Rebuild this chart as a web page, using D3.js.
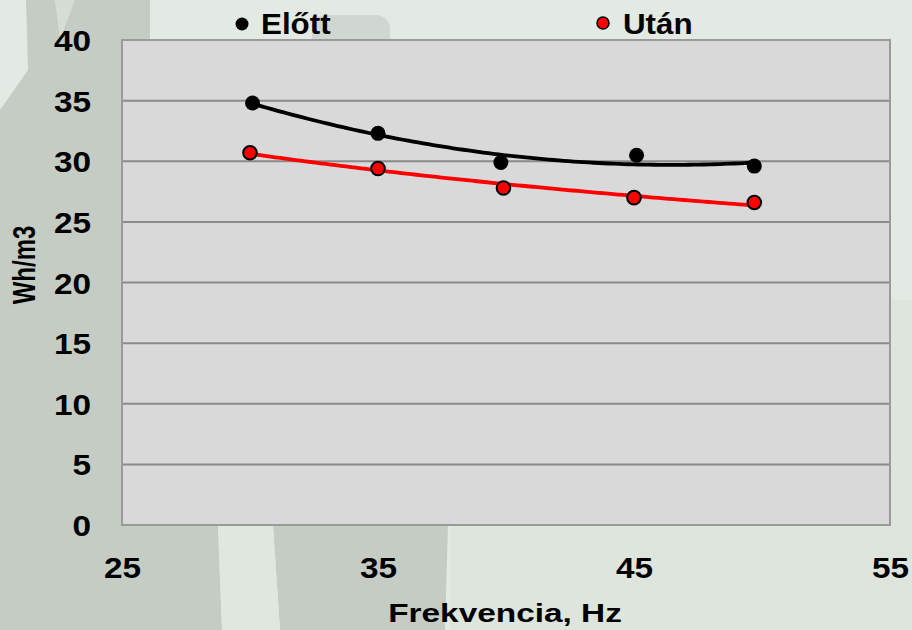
<!DOCTYPE html>
<html>
<head>
<meta charset="utf-8">
<script src="https://cdn.jsdelivr.net/npm/d3@7/dist/d3.min.js"></script>
<style>
  html, body { margin: 0; padding: 0; background: #e2e8e2; }
  svg { display: block; }
  text { font-family: "Liberation Sans", Arial, sans-serif; font-weight: bold; fill: #000; }
</style>
</head>
<body>
<svg id="chart" width="912" height="630"></svg>
<script>
// ---- data ----
const seriesNames = ["Előtt", "Után"];
const seriesColors = ["#000000", "#ff0000"];
const xBefore = [30.1, 35.0, 39.8, 45.1, 49.7];
const yBefore = [34.8, 32.3, 29.9, 30.5, 29.6];
const xAfter = [30.0, 35.0, 39.9, 45.0, 49.7];
const yAfter = [30.7, 29.4, 27.8, 27.0, 26.6];
const xTicks = [25, 35, 45, 55];
const yTicks = [0, 5, 10, 15, 20, 25, 30, 35, 40];
const xTitle = "Frekvencia, Hz";
const yTitle = "Wh/m3";

// ---- layout ----
const W = 912, H = 630;
const L = 122, R = 890, T = 40, B = 525;

const svg = d3.select("#chart");

// background (photo-like backdrop)
const bg = svg.append("g");
bg.append("rect").attr("width", W).attr("height", H).attr("fill", "#e3e9e3");
bg.append("rect").attr("x", 450).attr("y", 300).attr("width", 462).attr("height", 330).attr("fill", "#dde5dd");
bg.append("path").attr("fill", "#c4ccc4")
  .attr("d", "M0,110 L28,70 L26,0 L150,0 L150,40 L122,40 L122,525 L218,525 L222,630 L0,630 Z");
bg.append("path").attr("fill", "#d5ddd5")
  .attr("d", "M55,0 L75,0 L60,40 Z");
bg.append("path").attr("fill", "#c4ccc4")
  .attr("d", "M273,525 L448,525 L445,630 L280,630 Z");
bg.append("path").attr("fill", "#dfe7df")
  .attr("d", "M218,525 L273,525 L280,630 L222,630 Z");
bg.append("path").attr("fill", "#d0d7d0")
  .attr("d", "M312,40 L312,20 Q316,15 330,15 L378,15 Q390,18 390,30 L390,40 Z");

// scales
const x = d3.scaleLinear().domain([25, 55]).range([L, R]);
const y = d3.scaleLinear().domain([0, 40]).range([B, T]);

// plot area
svg.append("rect").attr("x", L).attr("y", T).attr("width", R - L).attr("height", B - T)
  .attr("fill", "#d9d9d9");

// gridlines
svg.append("g").selectAll("line").data(yTicks.filter(v => v > 0 && v < 40)).join("line")
  .attr("x1", L).attr("x2", R).attr("y1", d => y(d)).attr("y2", d => y(d))
  .attr("stroke", "#8a8a8a").attr("stroke-width", 2);

// border
svg.append("rect").attr("x", L).attr("y", T).attr("width", R - L).attr("height", B - T)
  .attr("fill", "none").attr("stroke", "#9a9a9a").attr("stroke-width", 2);

// axes (labels only, via d3 axes)
const yAxis = svg.append("g").attr("transform", `translate(${L},0)`)
  .call(d3.axisLeft(y).tickValues(yTicks).tickSize(0).tickPadding(0));
yAxis.select(".domain").remove();
yAxis.selectAll("text")
  .attr("x", null).attr("dy", null)
  .style("font-size", "29px").style("font-family", "Liberation Sans, Arial, sans-serif").style("font-weight", "bold")
  .attr("text-anchor", "end")
  .attr("transform", "translate(-31,10.5) scale(1.15,1)");

const xAxis = svg.append("g").attr("transform", `translate(0,${B})`)
  .call(d3.axisBottom(x).tickValues(xTicks).tickSize(0).tickPadding(0));
xAxis.select(".domain").remove();
xAxis.selectAll("text")
  .attr("y", null).attr("dy", null)
  .style("font-size", "29px").style("font-family", "Liberation Sans, Arial, sans-serif").style("font-weight", "bold")
  .attr("text-anchor", "middle")
  .attr("transform", "translate(0,52.5) scale(1.15,1)");

// axis titles
svg.append("text").text(xTitle)
  .attr("text-anchor", "middle").style("font-size", "26.5px")
  .attr("transform", `translate(505,622) scale(1.26,1)`);
svg.append("text").text(yTitle)
  .attr("text-anchor", "middle").style("font-size", "24px")
  .attr("transform", `translate(35,265) scale(1.3,1) rotate(-90)`);

// ---- trendlines computed from the data ----
function solve3(A, b) {
  const M = A.map((r, i) => r.concat([b[i]]));
  for (let i = 0; i < 3; i++) {
    let p = i;
    for (let k = i + 1; k < 3; k++) if (Math.abs(M[k][i]) > Math.abs(M[p][i])) p = k;
    [M[i], M[p]] = [M[p], M[i]];
    for (let k = i + 1; k < 3; k++) {
      const f = M[k][i] / M[i][i];
      for (let j = i; j < 4; j++) M[k][j] -= f * M[i][j];
    }
  }
  const s = [0, 0, 0];
  for (let i = 2; i >= 0; i--) {
    let v = M[i][3];
    for (let j = i + 1; j < 3; j++) v -= M[i][j] * s[j];
    s[i] = v / M[i][i];
  }
  return s;
}
function polyFit(xs, ys) {
  const S = k => d3.sum(xs, v => Math.pow(v, k));
  const Sy = k => d3.sum(xs, (v, i) => Math.pow(v, k) * ys[i]);
  const A = [[S(0), S(1), S(2)], [S(1), S(2), S(3)], [S(2), S(3), S(4)]];
  const c = solve3(A, [Sy(0), Sy(1), Sy(2)]);
  return v => c[0] + c[1] * v + c[2] * v * v;
}
function powerFit(xs, ys) {
  const lx = xs.map(Math.log), ly = ys.map(Math.log);
  const mx = d3.mean(lx), my = d3.mean(ly);
  const b = d3.sum(lx, (v, i) => (v - mx) * (ly[i] - my)) / d3.sum(lx, v => (v - mx) * (v - mx));
  const a = Math.exp(my - b * mx);
  return v => a * Math.pow(v, b);
}

const series = [
  { name: seriesNames[0], color: seriesColors[0], xs: xBefore, ys: yBefore, fit: polyFit(xBefore, yBefore) },
  { name: seriesNames[1], color: seriesColors[1], xs: xAfter, ys: yAfter, fit: powerFit(xAfter, yAfter) }
];

const line = d3.line().x(d => x(d[0])).y(d => y(d[1])).curve(d3.curveLinear);
series.forEach(s => {
  const x0 = d3.min(s.xs), x1 = d3.max(s.xs);
  const pts = d3.range(0, 101).map(i => { const v = x0 + (x1 - x0) * i / 100; return [v, s.fit(v)]; });
  svg.append("path").datum(pts).attr("d", line)
    .attr("fill", "none").attr("stroke", s.color).attr("stroke-width", 3.8);
});

// markers
series.forEach((s, si) => {
  svg.append("g").selectAll("circle").data(s.xs.map((v, i) => [v, s.ys[i]])).join("circle")
    .attr("cx", d => x(d[0])).attr("cy", d => y(d[1]))
    .attr("r", si === 0 ? 7.5 : 6.8)
    .attr("fill", s.color)
    .attr("stroke", "#000").attr("stroke-width", si === 0 ? 0 : 2);
});

// legend
const legendPos = [[242, 24, 261, 34], [603, 23, 623, 34]];
series.forEach((s, i) => {
  const p = legendPos[i];
  svg.append("circle").attr("cx", p[0]).attr("cy", p[1]).attr("r", i === 0 ? 6.5 : 6)
    .attr("fill", s.color).attr("stroke", "#000").attr("stroke-width", i === 0 ? 0 : 1.5);
  svg.append("text").text(s.name).style("font-size", "29px")
    .attr("transform", `translate(${p[2]},${p[3]}) scale(1.08,1)`);
});
</script>
</body>
</html>
